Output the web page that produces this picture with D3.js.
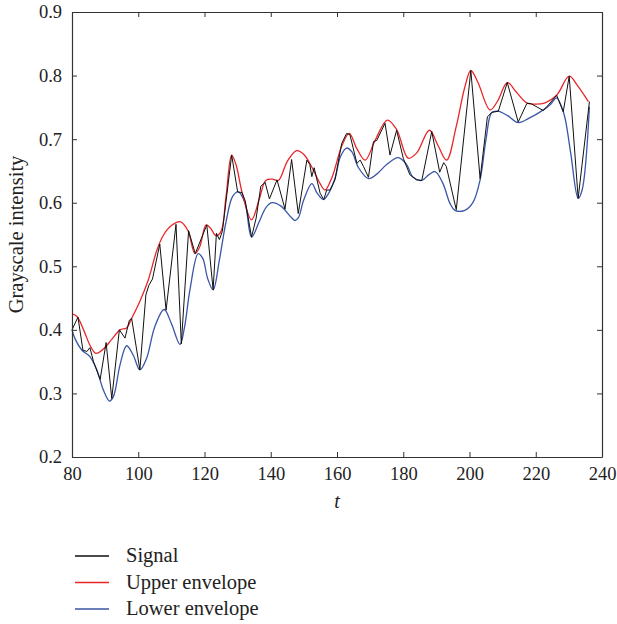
<!DOCTYPE html>
<html><head><meta charset="utf-8">
<script src="https://cdn.jsdelivr.net/npm/d3@7"></script>
<style>body{margin:0;background:#fff}svg{display:block}</style>
</head><body>
<svg id="c" width="617" height="624"></svg>
<script>
// Signal vertices [t, value]
const signal = [
[80.0,0.400],[81.8,0.420],[83.3,0.368],[84.5,0.366],[85.4,0.372],[86.5,0.350],[88.5,0.322],
[90.3,0.380],[92.0,0.292],[94.3,0.400],[96.0,0.387],[97.3,0.415],[98.0,0.418],[100.5,0.337],
[102.3,0.455],[103.2,0.470],[104.3,0.480],[106.5,0.535],[108.4,0.431],[111.4,0.566],[113.0,0.378],
[115.2,0.556],[117.2,0.520],[120.7,0.565],[122.6,0.463],[123.6,0.552],[124.5,0.542],[125.4,0.555],
[128.2,0.675],[130.0,0.617],[131.3,0.616],[132.3,0.603],[134.2,0.546],[135.6,0.576],[137.0,0.626],
[138.3,0.632],[139.6,0.606],[141.9,0.636],[144.3,0.590],[146.3,0.668],[148.3,0.583],[150.9,0.667],
[151.8,0.660],[152.4,0.641],[153.1,0.655],[154.9,0.615],[156.0,0.605],[156.9,0.620],[157.9,0.620],
[159.4,0.636],[161.4,0.693],[162.9,0.709],[163.9,0.707],[166.0,0.662],[167.0,0.667],[168.0,0.657],
[169.5,0.640],[171.0,0.696],[172.0,0.698],[174.5,0.725],[176.0,0.675],[178.0,0.714],[180.0,0.670],
[182.0,0.644],[184.0,0.636],[185.6,0.635],[188.6,0.712],[191.0,0.648],[192.2,0.663],[193.0,0.657],
[196.0,0.589],[200.4,0.808],[203.2,0.638],[205.4,0.735],[206.7,0.742],[208.7,0.744],[211.4,0.789],
[214.7,0.727],[217.3,0.756],[218.5,0.756],[222.3,0.745],[224.0,0.755],[226.3,0.769],[228.3,0.743],
[230.1,0.799],[232.8,0.607],[236.2,0.759]
];
// Upper envelope knots [t, value]
const upper = [
[80.0,0.425],[81.5,0.421],[83.5,0.400],[85.5,0.375],[87.2,0.363],[89.5,0.370],[92.0,0.385],
[94.5,0.400],[96.5,0.403],[98.0,0.418],[100.5,0.445],[103.0,0.478],[105.6,0.525],[107.5,0.548],
[110.0,0.564],[112.8,0.570],[115.0,0.556],[117.1,0.520],[118.5,0.530],[120.5,0.565],[121.8,0.560],
[123.5,0.548],[125.0,0.555],[126.5,0.610],[128.2,0.675],[129.5,0.660],[131.5,0.613],[134.2,0.573],
[136.5,0.605],[138.5,0.635],[140.5,0.637],[142.3,0.635],[145.0,0.665],[147.8,0.682],[150.0,0.676],
[152.5,0.655],[154.9,0.630],[156.4,0.620],[158.5,0.640],[161.5,0.690],[163.7,0.709],[166.0,0.685],
[168.5,0.667],[171.5,0.698],[175.2,0.730],[178.0,0.715],[181.5,0.670],[184.0,0.678],[187.9,0.714],
[190.5,0.690],[193.1,0.667],[196.0,0.720],[198.5,0.780],[200.4,0.808],[202.5,0.790],[206.2,0.746],
[208.5,0.760],[211.4,0.789],[214.0,0.775],[217.3,0.757],[220.0,0.755],[222.8,0.757],[226.3,0.769],
[230.1,0.799],[232.5,0.785],[235.9,0.759]
];
// Lower envelope knots [t, value]
const lower = [
[80.0,0.400],[81.0,0.385],[83.0,0.368],[85.4,0.358],[87.5,0.337],[89.5,0.305],[91.3,0.288],
[92.5,0.295],[94.5,0.345],[96.5,0.375],[98.5,0.360],[100.5,0.337],[102.5,0.355],[105.0,0.405],
[107.8,0.432],[110.0,0.410],[112.6,0.377],[114.0,0.405],[115.6,0.463],[118.1,0.520],[119.5,0.512],
[121.0,0.480],[122.6,0.463],[124.5,0.510],[126.5,0.570],[128.5,0.610],[130.2,0.617],[132.2,0.600],
[134.2,0.546],[136.5,0.570],[138.5,0.592],[140.3,0.600],[143.0,0.595],[146.0,0.578],[147.3,0.572],
[148.3,0.576],[150.0,0.605],[152.4,0.630],[154.0,0.615],[155.9,0.605],[157.5,0.615],[159.5,0.640],
[161.0,0.672],[162.9,0.686],[164.5,0.680],[166.5,0.655],[169.5,0.638],[172.0,0.645],[175.0,0.660],
[178.5,0.671],[181.0,0.660],[183.0,0.640],[185.6,0.635],[187.5,0.643],[189.6,0.649],[192.0,0.630],
[194.1,0.599],[195.6,0.588],[198.6,0.588],[201.0,0.600],[203.2,0.636],[205.0,0.700],[206.7,0.742],
[208.5,0.744],[211.5,0.737],[214.7,0.726],[218.0,0.733],[222.3,0.746],[224.5,0.755],[226.3,0.765],
[228.5,0.740],[230.5,0.680],[232.8,0.607],[234.0,0.620],[236.2,0.751]
];
const xTicks = [80,100,120,140,160,180,200,220,240];
const yTicks = [0.2,0.3,0.4,0.5,0.6,0.7,0.8,0.9];
const legendItems = [["Signal","#111"],["Upper envelope","#e8262a"],["Lower envelope","#3a56a5"]];

const svg = d3.select("#c");
const L=72,R=602,T=12,B=457;
const x = d3.scaleLinear().domain([80,240]).range([L,R]);
const y = d3.scaleLinear().domain([0.2,0.9]).range([B,T]);
const font = "'Liberation Serif','DejaVu Serif',serif";
const axc = "#333";

const line = d3.line().x(d=>x(d[0])).y(d=>y(d[1]));
const sm = d3.line().x(d=>x(d[0])).y(d=>y(d[1])).curve(d3.curveCatmullRom.alpha(0.5));

svg.append("path").attr("d",sm(lower)).attr("fill","none").attr("stroke","#3a56a5").attr("stroke-width",1.3);
svg.append("path").attr("d",sm(upper)).attr("fill","none").attr("stroke","#e8262a").attr("stroke-width",1.3);
svg.append("path").attr("d",line(signal)).attr("fill","none").attr("stroke","#111").attr("stroke-width",1);

// axes
const gB = svg.append("g").attr("transform",`translate(0,${B})`).call(d3.axisBottom(x).tickValues(xTicks).tickSizeInner(-5).tickSizeOuter(0).tickPadding(10));
const gL = svg.append("g").attr("transform",`translate(${L},0)`).call(d3.axisLeft(y).tickValues(yTicks).tickFormat(d3.format(".1f")).tickSizeInner(-5).tickSizeOuter(0).tickPadding(10));
const gT = svg.append("g").attr("transform",`translate(0,${T})`).call(d3.axisTop(x).tickValues(xTicks).tickSizeInner(-5).tickSizeOuter(0).tickFormat(""));
const gR = svg.append("g").attr("transform",`translate(${R},0)`).call(d3.axisRight(y).tickValues(yTicks).tickSizeInner(-5).tickSizeOuter(0).tickFormat(""));
[gB,gL,gT,gR].forEach(g=>{
  g.selectAll("path").attr("stroke",axc).attr("stroke-width",1.2);
  g.selectAll("line").attr("stroke",axc);
  g.selectAll("text").attr("font-family",font).attr("font-size",18.5).attr("fill","#222");
});

svg.append("text").attr("x",(L+R)/2).attr("y",508).attr("text-anchor","middle")
  .attr("font-family",font).attr("font-style","italic").attr("font-size",20).attr("fill","#222").text("t");
svg.append("text").attr("transform",`translate(23,${(T+B)/2}) rotate(-90)`).attr("text-anchor","middle")
  .attr("font-family",font).attr("font-size",20.5).attr("fill","#222").text("Grayscale intensity");

const lg = svg.append("g");
legendItems.forEach((d,i)=>{
  const yy = 556 + i*26.5;
  lg.append("line").attr("x1",75).attr("x2",109).attr("y1",yy).attr("y2",yy).attr("stroke",d[1]).attr("stroke-width",1.3);
  lg.append("text").attr("x",126).attr("y",yy+6).attr("font-family",font).attr("font-size",20.5).attr("fill","#222").text(d[0]);
});
</script>
</body></html>
